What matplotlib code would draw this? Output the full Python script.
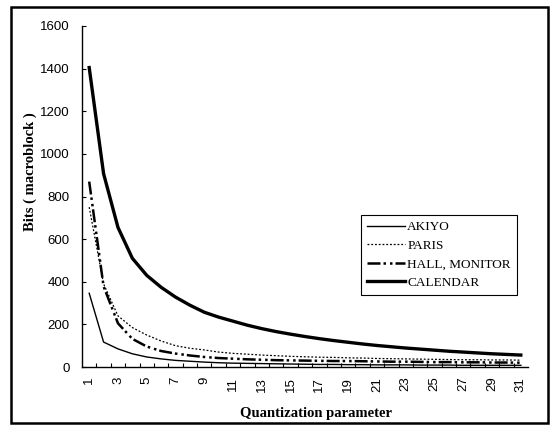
import matplotlib
matplotlib.use("Agg")
import matplotlib.pyplot as plt
from matplotlib.patches import Rectangle
import numpy as np

q = list(range(1, 32))
akiyo = [346, 117, 85, 62, 47, 38, 31, 27, 23, 20, 18, 17, 16, 15, 14, 13,
         12, 12, 11, 11, 10, 10, 10, 9, 9, 9, 8, 8, 8, 8, 8]
paris = [750, 390, 240, 185, 150, 122, 100, 88, 80, 70, 64, 60, 56, 53, 50, 48,
         46, 45, 43, 42, 40, 39, 38, 37, 36, 35, 34, 34, 33, 33, 32]
hall = [870, 378, 205, 132, 96, 75, 63, 54, 47, 42, 39, 36, 34, 32, 31, 30,
        29, 28, 28, 27, 26, 25, 25, 24, 23, 23, 22, 22, 21, 21, 20]
calendar = [1405, 907, 655, 510, 430, 374, 328, 290, 257, 234, 215, 196, 180,
            166, 154, 143, 133, 124, 116, 108, 101, 95, 89, 84, 79, 74, 70, 66,
            62, 59, 56]
series_names = ["AKIYO", "PARIS", "HALL, MONITOR", "CALENDAR"]
yticks = [0, 200, 400, 600, 800, 1000, 1200, 1400, 1600]
xlabels = [str(v) for v in q if v % 2 == 1]

W, H = 553, 426
fig = plt.figure(figsize=(W / 100, H / 100), dpi=100)
ax = fig.add_axes([82 / W, 1 - 367 / H, (528 - 82) / W, (367 - 26) / H])

ax.plot(q, akiyo, color="black", lw=1.0, label=series_names[0])
ax.plot(q, paris, color="black", lw=0.9, linestyle=(0, (1.5, 1.5)), label=series_names[1])
ax.plot(q, hall, color="black", lw=1.8,
        linestyle=(0, (5.2, 1.2, 1.0, 1.6, 1.0, 1.2)), label=series_names[2])
ax.plot(q, calendar, color="black", lw=2.4, label=series_names[3])

ax.set_xlim(0.5, 31.5)
ax.set_ylim(0, 1600)
for s in ["top", "right"]:
    ax.spines[s].set_visible(False)
for s in ["left", "bottom"]:
    ax.spines[s].set_linewidth(1.0)

ax.set_yticks(yticks)
ax.set_yticklabels([str(v) for v in yticks], fontsize=9.5, family="Liberation Sans")
ax.tick_params(axis="y", direction="in", length=3, pad=9, width=0.8)

ax.set_xticks(np.arange(1.5, 31.5, 1.0))
ax.set_xticklabels([])
ax.tick_params(axis="x", which="major", direction="in", length=3, width=0.8)
ax.set_xticks([v for v in q if v % 2 == 1], minor=True)
ax.set_xticklabels(xlabels, minor=True, rotation=90, fontsize=9.5,
                   family="Liberation Sans")
ax.tick_params(axis="x", which="minor", length=0, pad=7)

fig.text(316 / W, 1 - 413 / H, "Quantization parameter", ha="center", va="center",
         fontsize=10.5, fontweight="bold", family="Liberation Serif")
fig.text(30 / W, 1 - 172 / H, "Bits ( macroblock )", ha="center", va="center",
         rotation=90, fontsize=10.5, fontweight="bold", family="Liberation Serif")

leg = ax.legend(loc="upper left", bbox_to_anchor=(361 / W, 1 - 215 / H),
                bbox_transform=fig.transFigure, borderaxespad=0,
                prop={"family": "Liberation Serif", "size": 9.5},
                handlelength=2.9, handletextpad=0.15, labelspacing=0.48,
                fancybox=False, framealpha=1, edgecolor="black",
                borderpad=0.45)
leg.get_frame().set_linewidth(0.8)

fig.patches.append(Rectangle((11 / W, 1 - 423 / H), (548 - 11) / W, (423 - 7) / H,
                             transform=fig.transFigure, fill=False,
                             edgecolor="black", linewidth=1.8))

fig.savefig("out.png", dpi=100)
